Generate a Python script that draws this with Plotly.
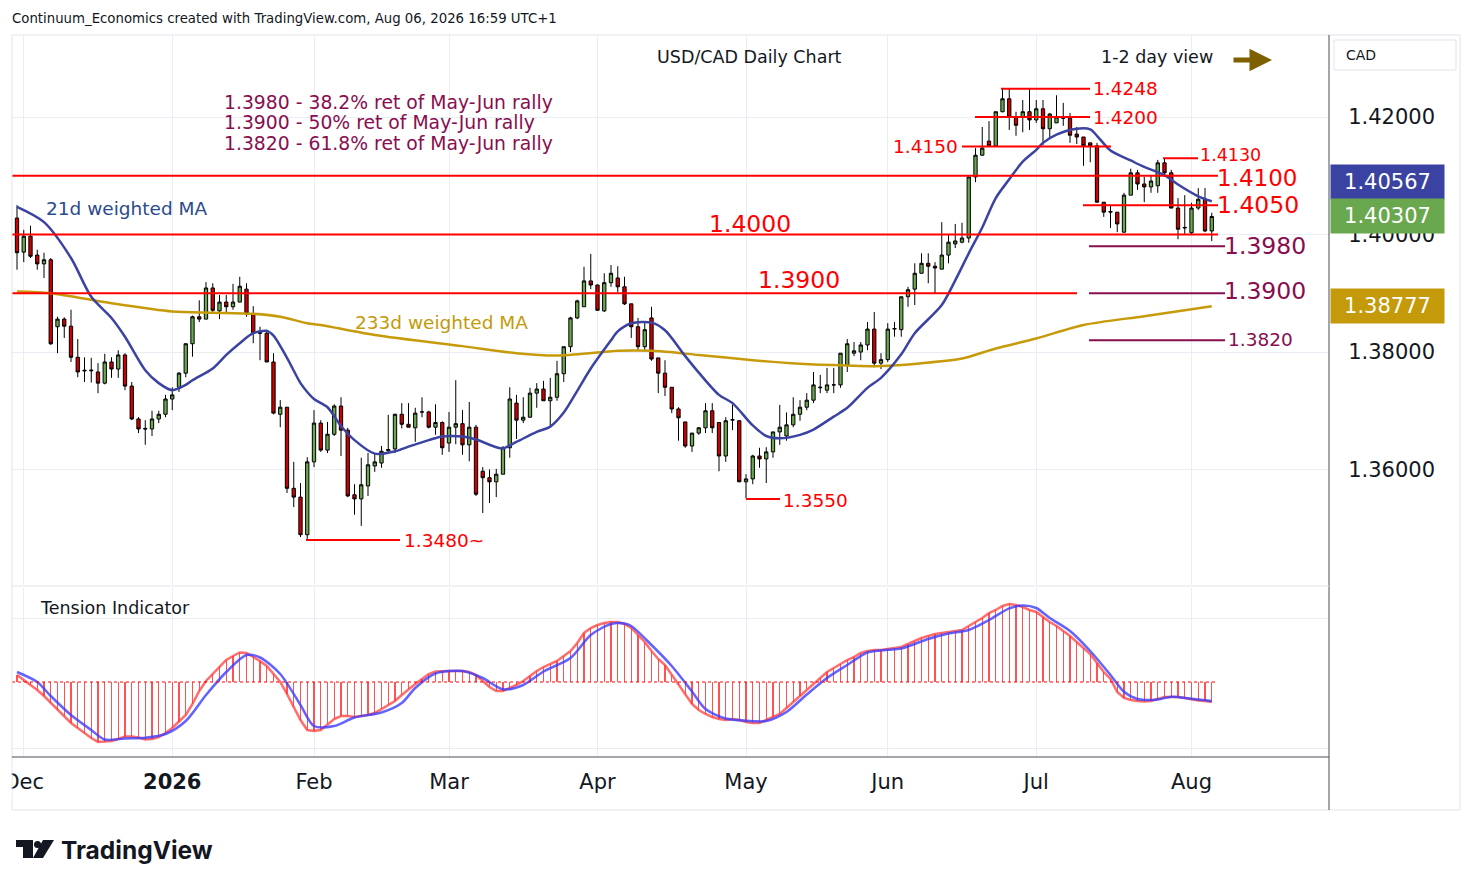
import pandas as pd
import plotly.graph_objects as go

# ── Data ─────────────────────────────────────────────────────────────────────
opens = [1.4028, 1.3970, 1.3997, 1.3965, 1.3950, 1.3957, 1.3843, 1.3856, 1.3844, 1.3791,
         1.3769, 1.3768, 1.3766, 1.3747, 1.3783, 1.3771, 1.3795, 1.3742, 1.3686, 1.3670,
         1.3669, 1.3686, 1.3694, 1.3720, 1.3740, 1.3764, 1.3814, 1.3860, 1.3856, 1.3909,
         1.3870, 1.3885, 1.3877, 1.3885, 1.3907, 1.3865, 1.3833, 1.3832, 1.3783, 1.3694,
         1.3706, 1.3568, 1.3553, 1.3489, 1.3613, 1.3679, 1.3633, 1.3660, 1.3708, 1.3667,
         1.3557, 1.3550, 1.3572, 1.3606, 1.3611, 1.3632, 1.3635, 1.3694, 1.3677, 1.3671,
         1.3698, 1.3698, 1.3672, 1.3680, 1.3645, 1.3672, 1.3678, 1.3642, 1.3672, 1.3597,
         1.3586, 1.3579, 1.3592, 1.3637, 1.3713, 1.3684, 1.3689, 1.3730, 1.3737, 1.3717,
         1.3723, 1.3763, 1.3809, 1.3858, 1.3877, 1.3921, 1.3914, 1.3870, 1.3918, 1.3926,
         1.3911, 1.3882, 1.3843, 1.3809, 1.3858, 1.3790, 1.3764, 1.3740, 1.3703, 1.3681,
         1.3640, 1.3662, 1.3671, 1.3700, 1.3680, 1.3623, 1.3684, 1.3683, 1.3579, 1.3584,
         1.3623, 1.3618, 1.3630, 1.3664, 1.3657, 1.3676, 1.3694, 1.3706, 1.3718, 1.3739,
         1.3735, 1.3744, 1.3744, 1.3778, 1.3798, 1.3800, 1.3812, 1.3839, 1.3781, 1.3787,
         1.3839, 1.3838, 1.3894, 1.3907, 1.3934, 1.3951, 1.3946, 1.3941, 1.3965, 1.3984,
         1.3987, 1.3994, 1.4098, 1.4135, 1.4159, 1.4151, 1.4209, 1.4231, 1.4200, 1.4200,
         1.4209, 1.4195, 1.4214, 1.4180, 1.4190, 1.4199, 1.4198, 1.4171, 1.4166, 1.4156,
         1.4151, 1.4055, 1.4038, 1.4038, 1.4004, 1.4067, 1.4105, 1.4086, 1.4081, 1.4083,
         1.4122, 1.4105, 1.4045, 1.4011, 1.4003, 1.4045, 1.4060, 1.4006]

highs = [1.4050, 1.4008, 1.4015, 1.3974, 1.3969, 1.3960, 1.3860, 1.3859, 1.3872, 1.3822,
         1.3791, 1.3790, 1.3781, 1.3797, 1.3791, 1.3803, 1.3798, 1.3749, 1.3689, 1.3684,
         1.3700, 1.3700, 1.3727, 1.3740, 1.3766, 1.3815, 1.3862, 1.3888, 1.3919, 1.3917,
         1.3897, 1.3897, 1.3916, 1.3928, 1.3917, 1.3878, 1.3843, 1.3838, 1.3798, 1.3718,
         1.3706, 1.3613, 1.3577, 1.3621, 1.3701, 1.3684, 1.3681, 1.3711, 1.3723, 1.3671,
         1.3575, 1.3620, 1.3628, 1.3628, 1.3640, 1.3693, 1.3695, 1.3713, 1.3713, 1.3705,
         1.3723, 1.3700, 1.3711, 1.3682, 1.3698, 1.3752, 1.3701, 1.3715, 1.3676, 1.3604,
         1.3600, 1.3601, 1.3640, 1.3740, 1.3727, 1.3723, 1.3739, 1.3747, 1.3751, 1.3756,
         1.3785, 1.3809, 1.3860, 1.3889, 1.3945, 1.3967, 1.3915, 1.3934, 1.3948, 1.3946,
         1.3928, 1.3882, 1.3858, 1.3851, 1.3877, 1.3790, 1.3786, 1.3740, 1.3706, 1.3681,
         1.3662, 1.3672, 1.3713, 1.3713, 1.3680, 1.3689, 1.3710, 1.3684, 1.3592, 1.3625,
         1.3637, 1.3638, 1.3664, 1.3710, 1.3697, 1.3723, 1.3718, 1.3730, 1.3766, 1.3761,
         1.3773, 1.3773, 1.3798, 1.3822, 1.3817, 1.3817, 1.3851, 1.3868, 1.3798, 1.3849,
         1.3851, 1.3894, 1.3911, 1.3951, 1.3968, 1.3968, 1.3953, 1.4021, 1.3999, 1.4018,
         1.4020, 1.4098, 1.4147, 1.4183, 1.4193, 1.4209, 1.4248, 1.4248, 1.4209, 1.4229,
         1.4248, 1.4229, 1.4229, 1.4207, 1.4237, 1.4224, 1.4207, 1.4183, 1.4166, 1.4156,
         1.4156, 1.4055, 1.4050, 1.4038, 1.4071, 1.4112, 1.4110, 1.4098, 1.4101, 1.4127,
         1.4130, 1.4110, 1.4062, 1.4067, 1.4054, 1.4079, 1.4079, 1.4037]

lows = [1.3940, 1.3953, 1.3960, 1.3940, 1.3926, 1.3812, 1.3798, 1.3824, 1.3783, 1.3757,
        1.3749, 1.3748, 1.3730, 1.3745, 1.3756, 1.3756, 1.3735, 1.3684, 1.3662, 1.3642,
        1.3657, 1.3679, 1.3689, 1.3701, 1.3732, 1.3757, 1.3792, 1.3851, 1.3856, 1.3868,
        1.3856, 1.3868, 1.3872, 1.3885, 1.3860, 1.3815, 1.3786, 1.3783, 1.3694, 1.3672,
        1.3560, 1.3536, 1.3485, 1.3481, 1.3604, 1.3630, 1.3628, 1.3657, 1.3623, 1.3553,
        1.3523, 1.3504, 1.3555, 1.3596, 1.3603, 1.3628, 1.3628, 1.3670, 1.3672, 1.3647,
        1.3689, 1.3670, 1.3659, 1.3625, 1.3630, 1.3643, 1.3625, 1.3614, 1.3555, 1.3526,
        1.3543, 1.3553, 1.3592, 1.3620, 1.3652, 1.3679, 1.3688, 1.3705, 1.3717, 1.3671,
        1.3717, 1.3749, 1.3800, 1.3856, 1.3877, 1.3907, 1.3870, 1.3868, 1.3911, 1.3902,
        1.3880, 1.3824, 1.3803, 1.3803, 1.3785, 1.3730, 1.3725, 1.3696, 1.3649, 1.3637,
        1.3630, 1.3659, 1.3662, 1.3662, 1.3597, 1.3613, 1.3667, 1.3579, 1.3551, 1.3575,
        1.3603, 1.3577, 1.3620, 1.3642, 1.3649, 1.3672, 1.3683, 1.3701, 1.3713, 1.3730,
        1.3730, 1.3730, 1.3739, 1.3766, 1.3793, 1.3786, 1.3803, 1.3774, 1.3771, 1.3783,
        1.3826, 1.3826, 1.3877, 1.3880, 1.3934, 1.3917, 1.3900, 1.3941, 1.3951, 1.3977,
        1.3985, 1.3986, 1.4089, 1.4134, 1.4149, 1.4149, 1.4208, 1.4178, 1.4168, 1.4174,
        1.4178, 1.4190, 1.4152, 1.4164, 1.4190, 1.4185, 1.4156, 1.4154, 1.4117, 1.4123,
        1.4055, 1.4030, 1.4011, 1.4004, 1.4003, 1.4067, 1.4076, 1.4055, 1.4071, 1.4071,
        1.4098, 1.4045, 1.3992, 1.4001, 1.4001, 1.4042, 1.4004, 1.3989]

closes = [1.3969, 1.3997, 1.3963, 1.3950, 1.3957, 1.3814, 1.3856, 1.3844, 1.3791, 1.3766,
          1.3768, 1.3769, 1.3747, 1.3783, 1.3771, 1.3795, 1.3742, 1.3686, 1.3669, 1.3669,
          1.3686, 1.3694, 1.3720, 1.3727, 1.3764, 1.3814, 1.3860, 1.3856, 1.3909, 1.3871,
          1.3885, 1.3877, 1.3885, 1.3912, 1.3865, 1.3832, 1.3832, 1.3783, 1.3696, 1.3706,
          1.3568, 1.3553, 1.3489, 1.3613, 1.3679, 1.3633, 1.3660, 1.3708, 1.3667, 1.3555,
          1.3550, 1.3574, 1.3608, 1.3613, 1.3631, 1.3634, 1.3694, 1.3677, 1.3672, 1.3696,
          1.3698, 1.3672, 1.3680, 1.3637, 1.3672, 1.3678, 1.3642, 1.3672, 1.3558, 1.3586,
          1.3579, 1.3592, 1.3637, 1.3720, 1.3684, 1.3689, 1.3730, 1.3737, 1.3717, 1.3723,
          1.3763, 1.3809, 1.3858, 1.3887, 1.3921, 1.3914, 1.3871, 1.3918, 1.3934, 1.3911,
          1.3882, 1.3843, 1.3809, 1.3838, 1.3788, 1.3764, 1.3740, 1.3703, 1.3688, 1.3640,
          1.3662, 1.3671, 1.3700, 1.3671, 1.3623, 1.3683, 1.3685, 1.3579, 1.3584, 1.3623,
          1.3618, 1.3630, 1.3664, 1.3672, 1.3676, 1.3694, 1.3706, 1.3718, 1.3744, 1.3740,
          1.3744, 1.3744, 1.3798, 1.3814, 1.3802, 1.3812, 1.3839, 1.3781, 1.3787, 1.3839,
          1.3840, 1.3894, 1.3906, 1.3934, 1.3951, 1.3946, 1.3943, 1.3965, 1.3987, 1.3989,
          1.3994, 1.4098, 1.4135, 1.4147, 1.4151, 1.4209, 1.4231, 1.4200, 1.4186, 1.4209,
          1.4195, 1.4214, 1.4180, 1.4205, 1.4200, 1.4198, 1.4169, 1.4166, 1.4151, 1.4151,
          1.4055, 1.4038, 1.4039, 1.4018, 1.4067, 1.4105, 1.4086, 1.4081, 1.4091, 1.4122,
          1.4105, 1.4045, 1.4009, 1.4012, 1.4045, 1.4060, 1.4006, 1.40307]

# 21d weighted MA, read at these bar numbers
ma21_at = [0, 4, 8, 11, 14, 16, 19, 21, 23, 25, 26, 29, 31, 33, 35, 37, 38, 40, 42, 43,
           44, 46, 48, 50, 53, 56, 58, 61, 63, 66, 68, 71, 72, 74, 77, 79, 81, 83, 85, 88,
           89, 91, 94, 96, 99, 101, 104, 106, 109, 111, 113, 116, 118, 121, 123, 126, 128, 131, 133, 137,
           139, 141, 143, 145, 147, 149, 151, 152, 154, 157, 159, 160, 162, 165, 167, 170, 172, 175, 177]
ma21_val = [1.4047, 1.4021, 1.3960, 1.3894, 1.3858, 1.3826, 1.3769, 1.3747, 1.3735, 1.3744,
            1.3752, 1.3772, 1.3795, 1.3815, 1.3832, 1.3836, 1.3828, 1.3790, 1.3747, 1.3732,
            1.3720, 1.3706, 1.3674, 1.3650, 1.3627, 1.3631, 1.3639, 1.3650, 1.3656, 1.3656,
            1.3651, 1.3638, 1.3636, 1.3647, 1.3664, 1.3673, 1.3697, 1.3734, 1.3772, 1.3820,
            1.3835, 1.3849, 1.3850, 1.3837, 1.3793, 1.3765, 1.3727, 1.3713, 1.3675, 1.3657,
            1.3653, 1.3659, 1.3668, 1.3690, 1.3705, 1.3739, 1.3756, 1.3796, 1.3832, 1.3880,
            1.3922, 1.3968, 1.4012, 1.4062, 1.4094, 1.4124, 1.4144, 1.4156, 1.4170, 1.4180,
            1.4179, 1.4168, 1.4143, 1.4126, 1.4115, 1.4101, 1.4085, 1.4065, 1.40567]

# 233d weighted MA
ma233_at = [0, 5, 14, 23, 29, 35, 39, 43, 45, 53, 66, 74, 80, 86, 89, 94, 101, 109, 116, 123,
            128, 134, 140, 145, 151, 158, 167, 177]
ma233_val = [1.3903, 1.3900, 1.3883, 1.3869, 1.3867, 1.3865, 1.3860, 1.3849, 1.3846, 1.3829,
             1.3810, 1.3798, 1.3794, 1.3799, 1.3802, 1.3802, 1.3795, 1.3786, 1.3780, 1.3777,
             1.3776, 1.3781, 1.3789, 1.3806, 1.3823, 1.3846, 1.3861, 1.38777]

# Tension indicator (histogram / fast line) for every bar
tension = [0.7, 0.2, -0.3, -0.8, -1.4, -2.1, -2.8, -3.4, -4.1, -4.6,
           -5.1, -5.6, -6.0, -5.95, -5.9, -5.7, -5.45, -5.45, -5.55, -5.75,
           -5.7, -5.5, -5.1, -4.6, -4.0, -3.3, -2.2, -0.9, 0.1, 0.8,
           1.6, 2.2, 2.6, 2.95, 2.9, 2.5, 2.1, 1.6, 0.8, 0.0,
           -1.2, -2.5, -3.8, -4.8, -4.9, -4.8, -4.2, -3.7, -3.4, -3.4,
           -3.5, -3.4, -3.3, -3.1, -2.7, -2.3, -1.9, -1.3, -0.7, -0.2,
           0.3, 0.8, 1.05, 1.1, 1.1, 1.1, 1.1, 1.0, 0.7, 0.1,
           -0.5, -0.9, -0.9, -0.6, -0.3, 0.1, 0.6, 1.1, 1.5, 1.8,
           2.1, 2.6, 3.1, 3.9, 4.9, 5.4, 5.7, 5.9, 6.0, 6.0,
           5.8, 5.4, 4.7, 4.0, 3.1, 2.3, 1.7, 0.7, -0.3, -1.3,
           -2.2, -2.8, -3.2, -3.5, -3.7, -3.8, -3.7, -3.8, -4.0, -4.1,
           -4.1, -3.8, -3.5, -3.2, -2.6, -2.0, -1.4, -0.7, -0.1, 0.4,
           1.0, 1.4, 1.8, 2.2, 2.5, 2.9, 3.1, 3.2, 3.2, 3.3,
           3.4, 3.5, 3.8, 4.1, 4.4, 4.6, 4.8, 4.9, 5.0, 5.1,
           5.2, 5.6, 6.0, 6.4, 6.9, 7.2, 7.6, 7.8, 7.7, 7.5,
           7.2, 7.0, 6.5, 6.0, 5.6, 5.1, 4.6, 4.0, 3.4, 2.8,
           1.9, 1.0, 0.3, -1.0, -1.6, -1.8, -1.9, -1.95, -1.9, -1.7,
           -1.5, -1.5, -1.5, -1.6, -1.75, -1.85, -1.9, -2.0]

# Tension signal (slow line), read at these bar numbers
signal_at = [0, 3, 5, 8, 11, 13, 16, 19, 22, 25, 28, 31, 34, 36, 39, 42, 44, 47, 50, 54,
             57, 59, 62, 66, 69, 72, 75, 78, 82, 85, 88, 90, 91, 94, 97, 100, 102, 105, 108, 111,
             114, 117, 120, 123, 126, 129, 131, 135, 138, 141, 144, 147, 149, 151, 153, 156, 159, 162, 164, 166,
             169, 171, 174, 177]
signal_val = [1.0, 0.0, -1.4, -3.3, -4.8, -5.75, -5.65, -5.57, -5.2, -3.9,
              -1.3, 1.0, 2.7, 2.45, 0.8, -2.3, -4.4, -4.4, -3.55, -3.05,
              -2.1, -0.6, 0.85, 1.1, 0.4, -0.73, -0.3, 1.05, 2.4, 4.7,
              5.8, 5.85, 5.6, 3.7, 1.6, -0.95, -2.7, -3.65, -3.87, -3.9,
              -3.0, -1.25, 0.4, 1.7, 2.95, 3.22, 3.35, 4.3, 4.85, 5.2,
              6.2, 7.37, 7.65, 7.4, 6.4, 5.1, 3.1, 0.7, -0.97, -1.7,
              -1.75, -1.47, -1.68, -1.9]

month_ticks = ["2025-12-01", "2026-01-02", "2026-02-02", "2026-03-02", "2026-04-01",
               "2026-05-01", "2026-06-01", "2026-07-01", "2026-08-03"]
month_labels = ["Dec", "<b>2026</b>", "Feb", "Mar", "Apr", "May", "Jun", "Jul", "Aug"]

price_ticks = [1.36, 1.38, 1.40, 1.42]

fib_notes = ["1.3980 - 38.2% ret of May-Jun rally",
             "1.3900 - 50% ret of May-Jun rally",
             "1.3820 - 61.8% ret of May-Jun rally"]

# trading days (no bars on Christmas / New Year)
days = pd.bdate_range("2025-11-28", "2026-08-06")
days = days[~days.isin(pd.to_datetime(["2025-12-25", "2026-01-01"]))]
dates = days.strftime("%Y-%m-%d").tolist()

RED = "#ff0000"
FIB = "#880e4f"
GRID = "#e9eef5"
MA21_C = "#3b43a2"
MA233_C = "#c79a0a"
FONT = "DejaVu Sans"

# ── Pixel helpers for layout placement ──────────────────────────────────────
L, R, T, B = 12, 1329, 35, 757


def px(x):
    return (x - L) / (R - L)


def py(y):
    return (B - y) / (B - T)


# ── Traces ───────────────────────────────────────────────────────────────────
fig = go.Figure()

fig.add_trace(go.Candlestick(
    x=dates, open=opens, high=highs, low=lows, close=closes,
    increasing=dict(line=dict(color="#000000", width=1), fillcolor="#6aa84f"),
    decreasing=dict(line=dict(color="#000000", width=1), fillcolor="#cc0000"),
    whiskerwidth=0, showlegend=False, hoverinfo="x+y",
    xaxis="x", yaxis="y"
))

fig.add_trace(go.Scatter(
    x=[dates[i] for i in ma233_at], y=ma233_val, mode="lines",
    line=dict(color=MA233_C, width=2.5, shape="spline", smoothing=0.8),
    hoverinfo="skip", xaxis="x", yaxis="y"
))
fig.add_trace(go.Scatter(
    x=[dates[i] for i in ma21_at], y=ma21_val, mode="lines",
    line=dict(color=MA21_C, width=2.5, shape="spline", smoothing=0.8),
    hoverinfo="skip", xaxis="x", yaxis="y"
))

# tension indicator panel
fig.add_trace(go.Bar(
    x=dates, y=tension, width=0.22,
    marker=dict(color="rgba(255,40,40,0.8)", line=dict(width=0)),
    hoverinfo="skip", xaxis="x2", yaxis="y2"
))
fig.add_trace(go.Scatter(
    x=dates, y=tension, mode="lines",
    line=dict(color="rgba(255,60,60,0.75)", width=2.5),
    hoverinfo="skip", xaxis="x2", yaxis="y2"
))
fig.add_trace(go.Scatter(
    x=[dates[i] for i in signal_at], y=signal_val, mode="lines",
    line=dict(color="rgba(60,60,255,0.8)", width=2.5, shape="spline", smoothing=0.8),
    hoverinfo="skip", xaxis="x2", yaxis="y2"
))

# ── Level lines and labels ──────────────────────────────────────────────────
shapes = []
annotations = []


def level(value, x0, x1, color=RED):
    shapes.append(dict(type="line", xref="paper", yref="y", x0=px(x0), x1=px(x1),
                       y0=value, y1=value, line=dict(color=color, width=2)))


def level_label(text, value, x, size, color=RED, anchor="left", yshift=0):
    annotations.append(dict(text=text, xref="paper", yref="y", x=px(x), y=value,
                            xanchor=anchor, yanchor="middle", showarrow=False,
                            yshift=yshift, borderpad=0,
                            font=dict(family=FONT, size=size, color=color)))


level(1.4248, 1001, 1090)
level(1.4200, 975, 1090)
level(1.4150, 962, 1111)
level(1.4130, 1163, 1198)
level(1.4100, 12, 1218)
level(1.4050, 1083, 1218)
level(1.4000, 12, 1218)
level(1.3900, 12, 1077)
level(1.3550, 746, 780)
level(1.3480, 306, 400)
level(1.3980, 1089, 1225, FIB)
level(1.3900, 1089, 1225, FIB)
level(1.3820, 1089, 1225, FIB)

level_label("1.4248", 1.4248, 1092, 18.5)
level_label("1.4200", 1.4200, 1092, 18.5)
level_label("1.4150", 1.4150, 959, 18.5, anchor="right")
level_label("1.4130", 1.4130, 1199, 17.5, yshift=3)
level_label("1.4100", 1.4100, 1216, 23, yshift=-2)
level_label("1.4050", 1.4050, 1216, 23.5)
level_label("1.4000", 1.4000, 750, 23.5, anchor="center", yshift=11)
level_label("1.3900", 1.3900, 799, 23.5, anchor="center", yshift=13)
level_label("1.3550", 1.3550, 782, 18.5, yshift=-2)
level_label("1.3480~", 1.3480, 403, 18.5)
level_label("1.3980", 1.3980, 1223, 23.5, FIB)
level_label("1.3900", 1.3900, 1223, 23.5, FIB, yshift=2)
level_label("1.3820", 1.3820, 1227, 18.5, FIB, yshift=1)

# tension zero line (dotted)
shapes.append(dict(type="line", xref="paper", yref="y2", x0=0, x1=px(1215), y0=0, y1=0,
                   line=dict(color=RED, width=1.2, dash="dot")))


# ── Free text ────────────────────────────────────────────────────────────────
def note(text, x, y, size, color="#131722", anchor="left"):
    annotations.append(dict(text=text, xref="paper", yref="paper", x=px(x), y=py(y),
                            xanchor=anchor, yanchor="middle", showarrow=False,
                            font=dict(family=FONT, size=size, color=color)))


note("Continuum_Economics created with TradingView.com, Aug 06, 2026 16:59 UTC+1", 10, 19, 13.3)
note("USD/CAD Daily Chart", 749, 57, 17.5, anchor="center")
note("1-2 day view", 1157, 57, 17.5, anchor="center")
for k, txt in enumerate(fib_notes):
    note(txt, 222, 103 + 20 * k, 18.8, FIB)
note("21d weighted MA", 44, 208, 18.5, "#2b4b8c")
note("233d weighted MA", 353, 322, 18.5, "#c39a0a")
note("Tension Indicator", 38, 608, 17.5)
note("CAD", 1344, 55, 14)

annotations.append(dict(
    text="<b>TradingView</b>", xref="paper", yref="paper", x=px(59), y=py(850),
    xanchor="left", yanchor="middle", showarrow=False,
    font=dict(family="Inter", size=24.5, color="#131722")))

# direction arrow
annotations.append(dict(
    text="", xref="paper", yref="paper", x=px(1272), y=py(60), ax=-40, ay=0,
    showarrow=True, arrowhead=2, arrowsize=0.9, arrowwidth=5, arrowcolor="#7f6000"))

# price badges on the axis
for value, bg, shift in [(ma21_val[-1], "#3b43a2", 19), (closes[-1], "#6aa84f", 0),
                         (ma233_val[-1], "#c49a0a", 0)]:
    annotations.append(dict(
        text=f"{value:.5f}", xref="paper", yref="y", x=px(1330), y=value,
        xanchor="left", yanchor="middle", showarrow=False, yshift=shift,
        width=107, height=28, borderpad=3, bgcolor=bg, align="center",
        font=dict(family=FONT, size=21, color="white")))

# frame, separators, logo
frame = [
    dict(type="rect", x0=px(12), x1=px(1460), y0=py(810), y1=py(35),
         line=dict(color="#e0e3eb", width=1)),
    dict(type="line", x0=px(1329), x1=px(1329), y0=py(810), y1=py(35),
         line=dict(color="#4a4d57", width=1)),
    dict(type="line", x0=px(12), x1=px(1329), y0=py(757), y1=py(757),
         line=dict(color="#4a4d57", width=1)),
    dict(type="line", x0=px(12), x1=px(1329), y0=py(586), y1=py(586),
         line=dict(color="#e0e3eb", width=1)),
    dict(type="rect", x0=px(1334), x1=px(1456), y0=py(70), y1=py(40),
         line=dict(color="#e0e3eb", width=1)),
    dict(type="rect", x0=px(0), x1=px(11.5), y0=py(800), y1=py(762),
         fillcolor="white", line=dict(width=0), layer="above"),
    dict(type="rect", x0=px(16), x1=px(33), y0=py(847), y1=py(840),
         fillcolor="#131722", line=dict(width=0)),
    dict(type="rect", x0=px(23), x1=px(33), y0=py(858), y1=py(840),
         fillcolor="#131722", line=dict(width=0)),
    dict(type="circle", x0=px(34), x1=px(41), y0=py(848), y1=py(841),
         fillcolor="#131722", line=dict(width=0)),
    dict(type="path",
         path=f"M {px(43)},{py(840)} L {px(54)},{py(840)} L {px(43)},{py(858)} L {px(33)},{py(858)} Z",
         fillcolor="#131722", line=dict(width=0)),
]
for s in frame:
    s.setdefault("xref", "paper")
    s.setdefault("yref", "paper")
shapes.extend(frame)

# ── Layout ───────────────────────────────────────────────────────────────────
fig.update_layout(
    width=1474, height=887,
    margin=dict(l=12, r=145, t=35, b=130, autoexpand=False),
    paper_bgcolor="white", plot_bgcolor="white",
    font=dict(family=FONT, color="#131722"),
    showlegend=False, bargap=0,
    xaxis=dict(domain=[0, 1], anchor="y", type="category", range=[-0.74, 194.37],
               rangeslider=dict(visible=False), showticklabels=False,
               tickvals=month_ticks, showgrid=True, gridcolor=GRID,
               zeroline=False, showline=False, ticks="", automargin=False),
    xaxis2=dict(domain=[0, 1], anchor="y2", type="category", matches="x",
                tickvals=month_ticks, ticktext=month_labels, showgrid=True,
                gridcolor=GRID, zeroline=False, showline=False, automargin=False,
                ticks="outside", ticklen=6, tickcolor="rgba(0,0,0,0)",
                tickfont=dict(family=FONT, size=21, color="#131722")),
    yaxis=dict(domain=[1 - (585 - T) / (B - T), 1], anchor="x", side="right",
               range=[1.34034, 1.43396], tickvals=price_ticks,
               ticktext=[f"{v:.5f}" for v in price_ticks], automargin=False,
               showgrid=True, gridcolor=GRID, zeroline=False, showline=False,
               ticks="outside", ticklen=14, tickcolor="rgba(0,0,0,0)",
               tickfont=dict(family=FONT, size=21, color="#131722")),
    yaxis2=dict(domain=[0, (B - 588) / (B - T)], anchor="x2", range=[-7.5, 9.4],
                tickvals=[6.4, -6.6], showticklabels=False, showgrid=True,
                gridcolor=GRID, zeroline=False, showline=False, automargin=False),
    shapes=shapes,
    annotations=annotations,
)

fig.write_html("out.html", config={"displayModeBar": False},
               post_script="document.body.style.margin='0';")
